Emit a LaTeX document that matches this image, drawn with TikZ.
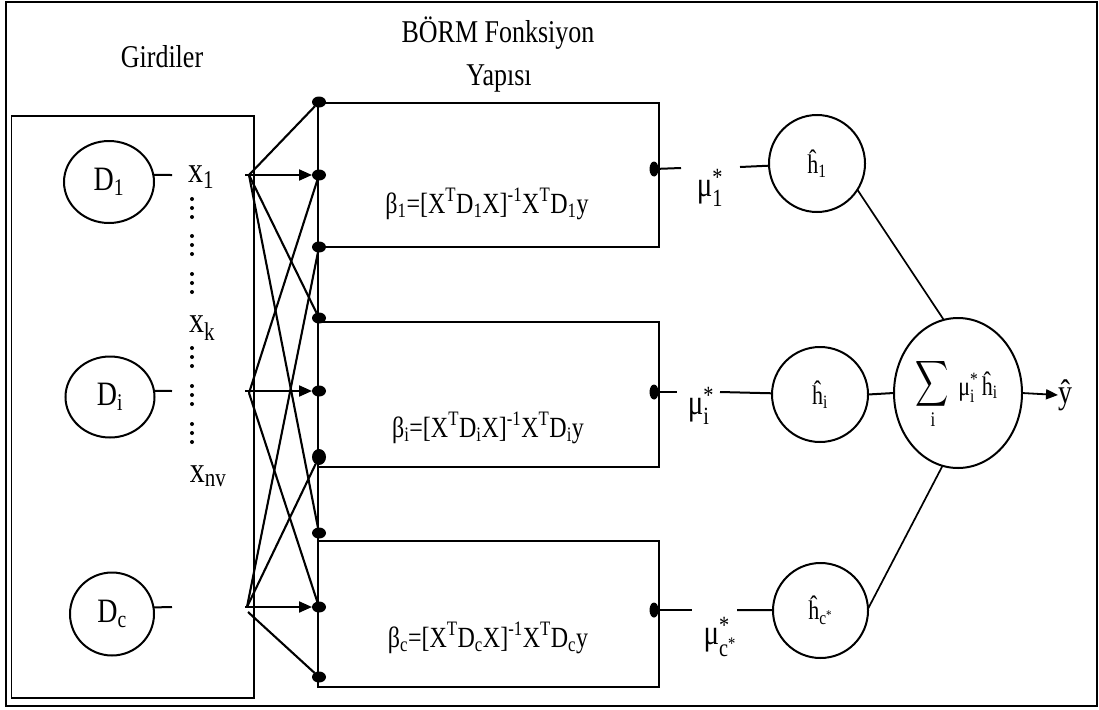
\documentclass[tikz,border=0pt]{standalone}
\usepackage{fontspec}
\usepackage{amsmath}
\usepackage{graphicx}
\setmainfont{Liberation Serif}
\usetikzlibrary{shapes.geometric,arrows.meta}
\newcommand\vst[1]{\scalebox{1}[1.22]{#1}}
\begin{document}
\begin{tikzpicture}[x=1pt,y=-1pt,
  every node/.style={inner sep=0pt, outer sep=0pt},
  tbig/.style={font=\fontsize{26}{30}\selectfont},
  tdd/.style={font=\fontsize{28}{30}\selectfont},
  txx/.style={font=\fontsize{30}{32}\selectfont},
  tfor/.style={font=\fontsize{24}{28}\selectfont},
  tmu/.style={font=\fontsize{29}{30}\selectfont},
  thh/.style={font=\fontsize{22}{24}\selectfont},
  dotn/.style={ellipse, fill=black, minimum width=14pt, minimum height=11pt},
  odot/.style={ellipse, fill=black, minimum width=9pt, minimum height=15pt},
  circ/.style={ellipse, draw, line width=2pt},
  boxn/.style={draw, line width=2.4pt, anchor=north west},
  fan/.style={line width=2.1pt},
  ln/.style={line width=2pt},
  thin/.style={line width=1.7pt},
  arr/.style={line width=2.1pt, -{Triangle[length=13pt,width=11pt]}}
]
\useasboundingbox (0,0) rectangle (1099,709);
% outer frame
\draw[line width=2pt] (5.5,1.8) rectangle (1096.5,706.2);
% input box
\draw[line width=1.8pt] (11.5,116) rectangle (254,698);

% titles
\node[tbig, anchor=base] (tGir) at (162,67) {\vst{Girdiler}};
\node[tbig, anchor=base] (tBorm) at (498,42) {\vst{BÖRM Fonksiyon}};
\node[tbig, anchor=base] (tYap) at (499,85) {\vst{Yapısı}};

% boxes
\node[boxn, minimum width=341pt, minimum height=144pt] (B1) at (318,103) {};
\node[boxn, minimum width=341pt, minimum height=145pt] (B2) at (318,322) {};
\node[boxn, minimum width=341pt, minimum height=146pt] (B3) at (318,541) {};
\draw[line width=2.4pt] (B1.north west) -- (B3.south west);

% formulas
\node[tfor, anchor=base] (f1) at (487,213) {\vst{β\textsubscript{1}=[X\textsuperscript{T}D\textsubscript{1}X]\textsuperscript{-1}X\textsuperscript{T}D\textsubscript{1}y}};
\node[tfor, anchor=base] (f2) at (488,437) {\vst{β\textsubscript{i}=[X\textsuperscript{T}D\textsubscript{i}X]\textsuperscript{-1}X\textsuperscript{T}D\textsubscript{i}y}};
\node[tfor, anchor=base] (f3) at (488,647) {\vst{β\textsubscript{c}=[X\textsuperscript{T}D\textsubscript{c}X]\textsuperscript{-1}X\textsuperscript{T}D\textsubscript{c}y}};

% input dots on the bar
\node[dotn] (n1) at (319,102) {};
\node[dotn] (n2) at (319,175) {};
\node[dotn] (n3) at (319,247) {};
\node[dotn] (n4) at (319,318) {};
\node[dotn] (n5) at (319,391) {};
\node[dotn, minimum width=14pt, minimum height=16pt] (n6) at (319,457) {};
\node[dotn] (n7) at (319,533) {};
\node[dotn] (n8) at (319,607) {};
\node[dotn] (n9) at (319,677) {};

% D circles
\node[circ, minimum width=90pt, minimum height=82pt, tdd] (D1) at (109,182) {\vst{D\textsubscript{1}}};
\node[circ, minimum width=89pt, minimum height=81pt, tdd] (Di) at (110,397) {\vst{D\textsubscript{i}}};
\node[circ, minimum width=84pt, minimum height=83pt, tdd] (Dc) at (112,614) {\vst{D\textsubscript{c}}};
\coordinate (d1e) at (172,175);
\coordinate (die) at (172,391);
\coordinate (dce) at (172,607);
\draw[ln] (D1.9) -- (d1e);
\draw[ln] (Di.8) -- (die);
\draw[ln] (Dc.9) -- (dce);

% x labels
\node[txx] (x1) at (201,177) {\vst{x\textsubscript{1}}};
\node[txx] (xk) at (202,328) {\vst{x\textsubscript{k}}};
\node[txx] (xnv) at (208,476) {\vst{x\textsubscript{nv}}};
\foreach \yy in {199,208,217, 236,245,254, 274,283,292, 348,357,366, 386,395,404, 424,433,442}
  \fill (192,\yy) circle (2pt);

% sources
\coordinate (s1) at (249,175);
\coordinate (si) at (249,393);
\coordinate (sc) at (247,607);
\coordinate (a1) at (245,175);
\coordinate (ai) at (245,391);
\coordinate (ac) at (245,607);
\coordinate (sc2) at (248,612);

\draw[fan] (s1) -- (n1);
\draw[fan] (s1) -- (n4);
\draw[fan] (s1) -- (n7);
\draw[fan] (si) -- (n2);
\draw[fan] (si) -- (n8);
\draw[fan] (sc) -- (n3);
\draw[fan] (sc) -- (n6);
\draw[fan] (sc2) -- (n9);
\draw[arr] (a1) -- (n2);
\draw[arr] (ai) -- (n5);
\draw[arr] (ac) -- (n8);

% outputs
\node[odot] (o1) at (654,169) {};
\node[odot] (o2) at (654,392) {};
\node[odot] (o3) at (654,610) {};
\coordinate (m1a) at (681,168);
\coordinate (m1b) at (740,167);
\coordinate (m2a) at (677,392);
\coordinate (m2b) at (720,392);
\coordinate (m3a) at (692,610);
\coordinate (m3b) at (737,610);
\node[tmu] (mu1) at (710,188) {\vst{μ$^{\text{*}}_{\text{1}}$}};
\node[tmu] (mui) at (701,406) {\vst{μ$^{\text{*}}_{\text{i}}$}};
\node[tmu] (muc) at (720,637) {\vst{μ$^{\text{*}}_{\text{c}^{\text{*}}}$}};

\node[circ, minimum width=96pt, minimum height=97pt, thh] (h1) at (817,163.5) {\vst{ĥ\textsubscript{1}}};
\node[circ, minimum width=96pt, minimum height=95pt, thh] (hi) at (820,394.5) {\vst{ĥ\textsubscript{i}}};
\node[circ, minimum width=95pt, minimum height=95pt, thh] (hc) at (820.5,610.5) {\vst{ĥ$_{\text{c}^{\text{*}}}$}};

\draw[ln] (o1) -- (m1a);
\draw[ln] (m1b) -- (h1);
\draw[ln] (o2) -- (m2a);
\draw[ln] (m2b) -- (hi);
\draw[ln] (o3) -- (m3a);
\draw[ln] (m3b) -- (hc);

% sum
\node[circ, minimum width=128pt, minimum height=150pt] (sum) at (958,393) {};
\node (sig) at (932,384) {\scalebox{2.3}[3.2]{$\displaystyle\sum$}};
\node[font=\fontsize{17}{17}\selectfont] (sigi) at (933,420) {\vst{i}};
\node[font=\fontsize{22}{22}\selectfont] (term) at (978,387) {\vst{μ$^{\text{*}}_{\text{i}}$\,ĥ\textsubscript{i}}};

\draw[thin] (h1.-33) -- (sum.101);
\draw[ln] (hi.east) -- (sum.west);
\draw[thin] (hc.2) -- (sum.-102);

\node[tdd] (yh) at (1065,395) {\vst{ŷ}};
\draw[line width=1.8pt, -{Triangle[length=12pt,width=10pt]}] (sum.east) -- (yh.west);
\end{tikzpicture}
\end{document}
